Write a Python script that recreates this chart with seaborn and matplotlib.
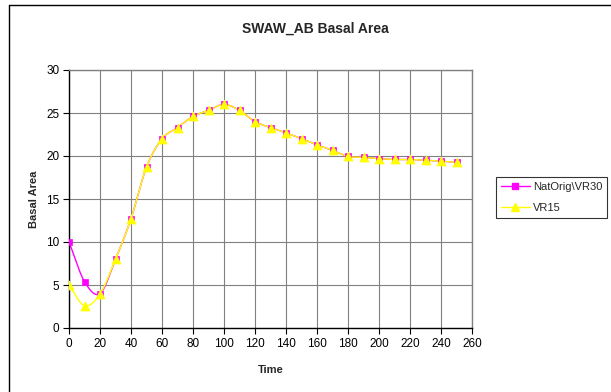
import numpy as np
import pandas as pd
import matplotlib
matplotlib.use("Agg")
import matplotlib.pyplot as plt
from matplotlib.lines import Line2D
import seaborn as sns

time = [0, 10, 20, 30, 40, 50, 60, 70, 80, 90, 100, 110, 120, 130, 140, 150,
        160, 170, 180, 190, 200, 210, 220, 230, 240, 250]
natorig = [10.0, 5.4, 4.0, 8.0, 12.7, 18.7, 22.0, 23.3, 24.6, 25.3, 26.0, 25.3,
           24.0, 23.3, 22.7, 22.0, 21.3, 20.65, 19.95, 19.85, 19.7, 19.6, 19.6,
           19.5, 19.4, 19.25]
vr15 = [5.0, 2.6, 3.95, 8.0, 12.7, 18.7, 22.0, 23.3, 24.6, 25.3, 26.0, 25.3,
        24.0, 23.3, 22.7, 22.0, 21.3, 20.65, 19.95, 19.85, 19.7, 19.6, 19.6,
        19.5, 19.4, 19.25]
series_names = ["NatOrig\\VR30", "VR15"]
x_ticks = list(range(0, 261, 20))
y_ticks = list(range(0, 31, 5))


def smooth(xs, ys, n=20):
    # Catmull-Rom spline through the data points (Excel-style smoothed line)
    xs = np.asarray(xs, float)
    ys = np.asarray(ys, float)
    px = np.concatenate([[2 * xs[0] - xs[1]], xs, [2 * xs[-1] - xs[-2]]])
    py = np.concatenate([[2 * ys[0] - ys[1]], ys, [2 * ys[-1] - ys[-2]]])
    ox, oy = [], []
    t = np.linspace(0, 1, n, endpoint=False)
    for i in range(1, len(px) - 2):
        for P, out in ((px, ox), (py, oy)):
            p0, p1, p2, p3 = P[i - 1], P[i], P[i + 1], P[i + 2]
            v = 0.5 * ((2 * p1) + (-p0 + p2) * t
                       + (2 * p0 - 5 * p1 + 4 * p2 - p3) * t ** 2
                       + (-p0 + 3 * p1 - 3 * p2 + p3) * t ** 3)
            out.extend(v)
    ox.append(xs[-1])
    oy.append(ys[-1])
    return np.array(ox), np.array(oy)


sns.set_style("white")
plt.rcParams["font.family"] = ["Liberation Sans", "DejaVu Sans"]

fig = plt.figure(figsize=(6.11, 3.92), dpi=100)
ax = fig.add_axes([69 / 611, 1 - 328 / 392, (472 - 69) / 611, (328 - 70) / 392])

colors = ["#FF00FF", "#FFFF00"]
markers = ["s", "^"]
msizes = [5, 6.5]
for name, ys, c, m, ms in zip(series_names, [natorig, vr15], colors, markers, msizes):
    sx, sy = smooth(time, ys)
    sns.lineplot(x=sx, y=sy, ax=ax, color=c, lw=1.0, sort=False,
                 estimator=None)
for name, ys, c, m, ms in zip(series_names, [natorig, vr15], colors, markers, msizes):
    df = pd.DataFrame({"Time": time, "val": ys})
    sns.scatterplot(data=df, x="Time", y="val", ax=ax, color=c, marker=m,
                    s=ms ** 2, edgecolor=c, linewidth=0.5, zorder=3)

ax.set_xlim(0, 260)
ax.set_ylim(0, 30)
ax.set_xticks(x_ticks)
ax.set_yticks(y_ticks)
ax.set_xticklabels([str(v) for v in x_ticks], fontsize=8.5)
ax.set_yticklabels([str(v) for v in y_ticks], fontsize=8.5)
ax.grid(True, color="#808080", lw=0.8)
ax.set_axisbelow(True)
for s in ["top", "right"]:
    ax.spines[s].set_color("#808080")
    ax.spines[s].set_linewidth(1.0)
for s in ["left", "bottom"]:
    ax.spines[s].set_color("black")
    ax.spines[s].set_linewidth(1.0)
ax.tick_params(axis="both", direction="out", length=4, width=0.8,
               colors="black", pad=3, bottom=True, left=True)
ax.set_xlabel("Time", fontsize=8, fontweight="bold", labelpad=11)
ax.set_ylabel("Basal Area", fontsize=8, fontweight="bold", labelpad=5)
fig.text(315 / 611, 1 - 29 / 392, "SWAW_AB Basal Area", ha="center",
         va="center", fontsize=10, fontweight="bold")

handles = [Line2D([0], [0], color=c, marker=m, markersize=ms, lw=1,
                  markeredgecolor=c) for c, m, ms in zip(colors, markers, [4.5, 5.5])]
leg = fig.legend(handles, series_names, loc="upper left",
                 bbox_to_anchor=(496 / 611, 1 - 177 / 392), frameon=True,
                 fontsize=8, handlelength=2.6, borderpad=0.45, labelspacing=1.0,
                 handletextpad=0.25, fancybox=False, borderaxespad=0)
leg.get_frame().set_edgecolor("black")
leg.get_frame().set_linewidth(0.8)

# outer chart border
fig.add_artist(Line2D([8.5 / 611, 8.5 / 611], [0, 1 - 5 / 392],
                      transform=fig.transFigure, color="black", lw=1))
fig.add_artist(Line2D([8.5 / 611, 1], [1 - 5 / 392, 1 - 5 / 392],
                      transform=fig.transFigure, color="black", lw=1))

fig.savefig("out.png", dpi=100)
